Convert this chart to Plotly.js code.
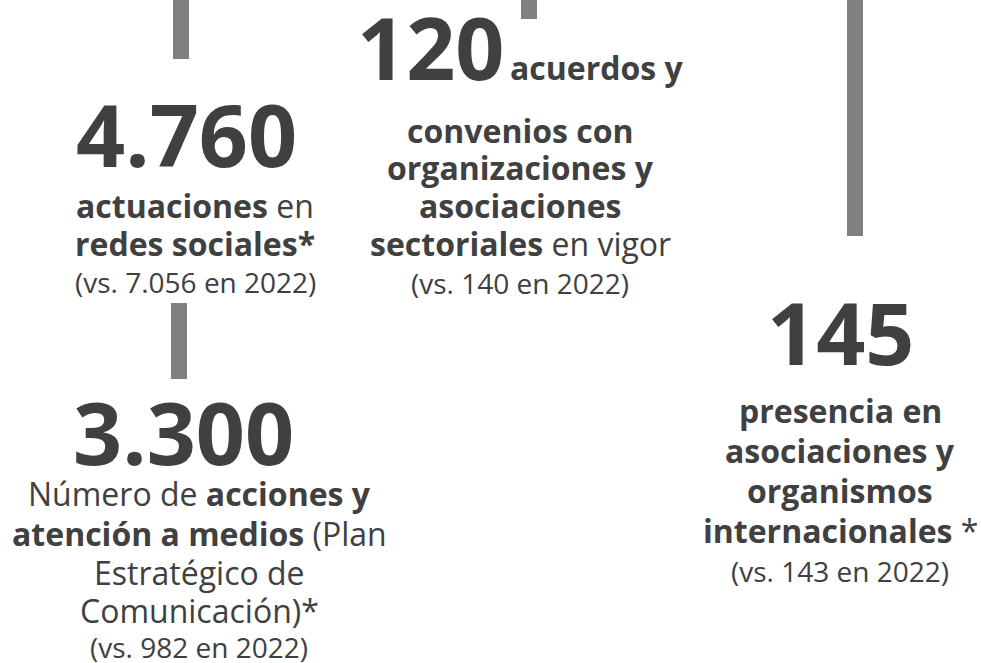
<!DOCTYPE html>
<html>
<head>
<meta charset="utf-8">
<script src="https://cdn.plot.ly/plotly-3.0.1.min.js"></script>
<style>html,body{margin:0;padding:0;background:#fff;overflow:hidden}#chart{width:981px;height:663px}</style>
</head>
<body>
<div id="chart"></div>
<script>
// ---- data ----
const bigNumbers = ['4.760', '3.300', '120', '145'];
const descriptions = [
  ['<b>actuaciones</b> en', '<b>redes sociales*</b>'],
  ['Número de <b>acciones y</b>', '<b>atención a medios</b> (Plan', 'Estratégico de', 'Comunicación)*'],
  ['<b>convenios con</b>', '<b>organizaciones y</b>', '<b>asociaciones</b>', '<b>sectoriales</b> en vigor'],
  ['<b>presencia en</b>', '<b>asociaciones y</b>', '<b>organismos</b>', '<b>internacionales</b> *']
];
const inlineLabel = '<b>acuerdos y</b>';
const comparisons = ['(vs. 7.056 en 2022)', '(vs. 982 en 2022)', '(vs. 140 en 2022)', '(vs. 143 en 2022)'];

// ---- layout (positions / styles) ----
const TEXT = '#404040', BAR = '#808080', FONT = '"Open Sans", sans-serif';
const blocks = [
  {cx: 195, numX: 186, numY: 133, lines: [205, 243], cmpY: 282},
  {cx: 199, numX: 183, numY: 431, lines: [493, 533, 572, 610], cmpY: 647},
  {cx: 520, numX: 431, numY: 46, lines: [130, 167, 205, 243], cmpY: 283},
  {cx: 840, numX: 841, numY: 331, lines: [410, 450, 490, 530], cmpY: 571}
];
const connectors = [
  {x: 181, y0: 0, y1: 59},
  {x: 179, y0: 303, y1: 379},
  {x: 529, y0: 0, y1: 19},
  {x: 855, y0: 0, y1: 236}
];

const traces = connectors.map(c => ({
  type: 'scatter', mode: 'lines', x: [c.x, c.x], y: [c.y0, c.y1],
  line: {color: BAR, width: 16}, hoverinfo: 'skip', showlegend: false
}));

const annotations = [];
bigNumbers.forEach((n, i) => {
  const b = blocks[i];
  annotations.push({x: b.numX, y: b.numY, xref: 'x', yref: 'y', text: '<b>' + n + '</b>',
    showarrow: false, xanchor: 'center', yanchor: 'middle', borderpad: 0,
    font: {family: FONT, size: 86, color: TEXT}});
  descriptions[i].forEach((line, j) => {
    annotations.push({x: b.cx, y: b.lines[j], xref: 'x', yref: 'y', text: line,
      showarrow: false, xanchor: 'center', yanchor: 'middle', borderpad: 0,
      font: {family: FONT, size: 32, color: TEXT}});
  });
  annotations.push({x: b.cx, y: b.cmpY, xref: 'x', yref: 'y',
    text: comparisons[i], showarrow: false, xanchor: 'center', yanchor: 'middle', borderpad: 0,
    font: {family: FONT, size: 28, color: TEXT}});
});
annotations.push({x: 509, y: 67, xref: 'x', yref: 'y', text: inlineLabel, showarrow: false,
  xanchor: 'left', yanchor: 'middle', borderpad: 0, font: {family: FONT, size: 32, color: TEXT}});

const layout = {
  width: 981, height: 663, margin: {l: 0, r: 0, t: 0, b: 0},
  paper_bgcolor: '#fff', plot_bgcolor: '#fff',
  xaxis: {range: [0, 981], visible: false, fixedrange: true},
  yaxis: {range: [663, 0], visible: false, fixedrange: true},
  annotations: annotations, showlegend: false
};
Plotly.newPlot('chart', traces, layout, {staticPlot: true, displayModeBar: false});
</script>
</body>
</html>
